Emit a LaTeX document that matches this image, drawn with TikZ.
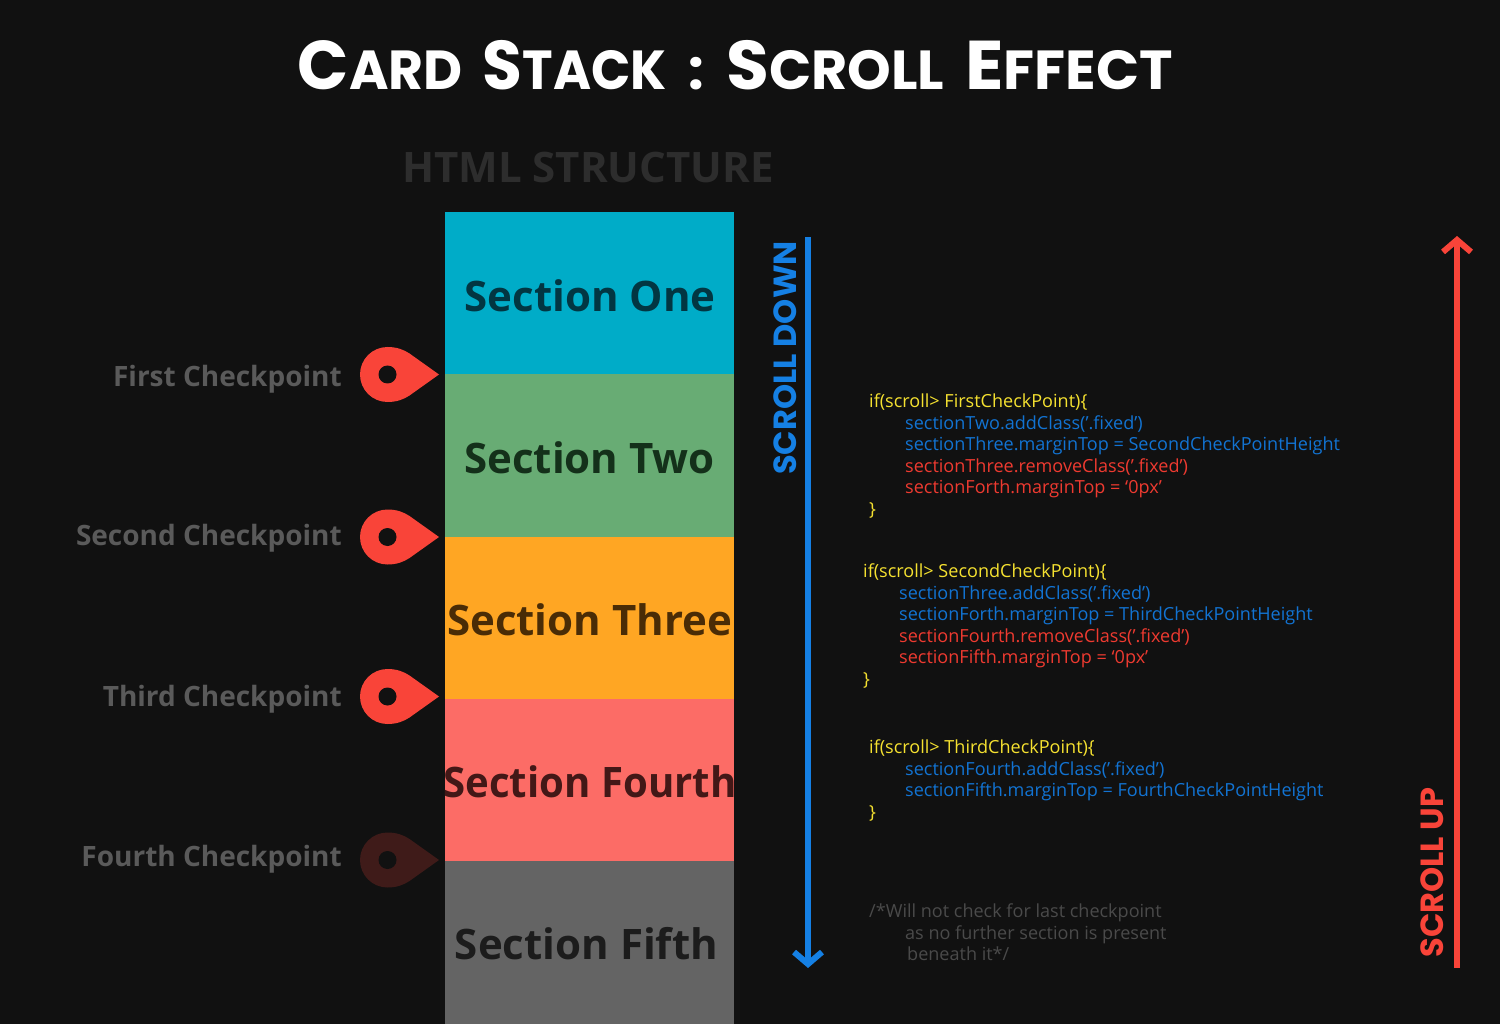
\documentclass[tikz,border=0pt]{standalone}
\usepackage{graphicx}
\usepackage{fontspec}
\setmainfont{Open Sans}
\newfontfamily\titlefont{Poppins}
\usetikzlibrary{arrows.meta,positioning}
\definecolor{bgdark}{HTML}{111111}
\definecolor{pinred}{HTML}{F94439}
\definecolor{scrollblue}{HTML}{1580E4}
\definecolor{codeyellow}{HTML}{F5E130}
\definecolor{codeblue}{HTML}{1273D2}
\definecolor{codered}{HTML}{EE3A30}
\definecolor{checkgrey}{HTML}{5A5A5A}
\definecolor{notegrey}{HTML}{4A4A4A}
\definecolor{headgrey}{HTML}{2D2D2D}
\tikzset{
	sectionbox/.style={minimum width=289pt, minimum height=163pt, inner sep=0pt, anchor=north},
	sectionlabel/.style={inner sep=0pt, anchor=base, font=\fontsize{42}{42}\bfseries},
	checklabel/.style={anchor=base east, inner sep=0pt, text=checkgrey, font=\fontsize{28}{28}\bfseries},
	scrollarrow/.style={line width=6pt, -{Straight Barb[length=12pt, width=28pt, line width=6pt]}},
	scrolllabel/.style={rotate=90, inner sep=0pt, font=\titlefont\fontsize{32}{32}\bfseries, anchor=center},
	codeline/.style={anchor=base west, inner sep=0pt, font=\fontsize{18.05}{18}\selectfont},
	pin/.pic={
		\fill[pic actions] (0,-27.5) arc[start angle=-90, end angle=-270, radius=27.5]
			.. controls (9,27.5) and (16,25) .. (22,21) -- (51.5,0) -- (22,-21)
			.. controls (16,-25) and (9,-27.5) .. (0,-27.5) -- cycle;
		\fill[bgdark] (0,0) circle (9);
	}
}
\newcommand{\titleword}[3]{\scalebox{#1}[1]{{\fontsize{69}{69}\selectfont #2}{\fontsize{55}{55}\selectfont #3}}}
\begin{document}
\begin{tikzpicture}[x=1pt, y=-1pt]
	\useasboundingbox (0,0) rectangle (1500,1024);
	\fill[bgdark] (0,0) rectangle (1500,1024);

	% title and heading
	\node[text=white, inner sep=0pt, anchor=base] (title) at (735.5,90) {\titlefont\bfseries
		\titleword{.976}{C}{ARD}\hspace*{20pt}\titleword{.94}{S}{TACK}\hspace*{22pt}\titleword{1}{}{:}\hspace*{22pt}\titleword{1.01}{S}{CROLL}\hspace*{21pt}\titleword{1.03}{E}{FFECT}};
	\node[text=headgrey, inner sep=0pt, font=\fontsize{42}{42}\bfseries] (heading) at (588,168) {HTML STRUCTURE};

	% sections
	\foreach \sec/\txt/\boxcol/\textcol/\secy/\basey/\labx/\labs in {
		one/One/00ACC8/023642/212/312/590/1,
		two/Two/68AC74/14301A/374/473.5/589.5/1,
		three/Three/FFA623/4A2C06/536.5/635.5/589.5/1,
		fourth/Fourth/FC6C66/431817/699/797.5/590/.955,
		fifth/Fifth/646464/1C1C1C/861/959.5/586.5/1}{
		\definecolor{secfill}{HTML}{\boxcol}
		\definecolor{sectext}{HTML}{\textcol}
		\node[sectionbox, fill=secfill] (\sec) at (589.5,\secy) {};
		\node[sectionlabel, text=sectext] (\sec label) at (\labx,\basey) {\scalebox{\labs}[1]{Section \txt}};
	}

	% checkpoints
	\foreach \name/\lab/\py/\ly/\pincol in {first/First/374.5/386/pinred, second/Second/537/545/pinred, third/Third/696.5/706/pinred, fourth/Fourth/860/866/pinred!20!bgdark}{
		\pic[fill=\pincol] at (387.5,\py) {pin};
		\node[checklabel] (\name check) at (342,\ly) {\lab\ Checkpoint};
	}

	% scroll arrows
	\coordinate (downstart) at (808,237);
	\coordinate (downend) at (808,968);
	\coordinate (upstart) at (1457,968);
	\coordinate (upend) at (1457,236);
	\draw[scrollarrow, scrollblue] (downstart) -- (downend);
	\draw[scrollarrow, pinred] (upstart) -- (upend);
	\node[scrolllabel, text=scrollblue] (downlabel) at (785,358) {SCROLL DOWN};
	\node[scrolllabel, text=pinred] (uplabel) at (1432,872.5) {SCROLL UP};

	% code blocks
	\foreach \x/\y/\col/\txt in {
		869/407/codeyellow/{if(scroll> FirstCheckPoint)\{},
		905/429/codeblue/{sectionTwo.addClass(’.fixed’)},
		905/450/codeblue/{sectionThree.marginTop = SecondCheckPointHeight},
		905/472/codered/{sectionThree.removeClass(’.fixed’)},
		905/493/codered/{sectionForth.marginTop = ‘0px’},
		869/515/codeyellow/{\}},
		863/577/codeyellow/{if(scroll> SecondCheckPoint)\{},
		899/599/codeblue/{sectionThree.addClass(’.fixed’)},
		899/620/codeblue/{sectionForth.marginTop = ThirdCheckPointHeight},
		899/642/codered/{sectionFourth.removeClass(’.fixed’)},
		899/663/codered/{sectionFifth.marginTop = ‘0px’},
		863/685/codeyellow/{\}},
		869/753/codeyellow/{if(scroll> ThirdCheckPoint)\{},
		905/775/codeblue/{sectionFourth.addClass(’.fixed’)},
		905/796/codeblue/{sectionFifth.marginTop = FourthCheckPointHeight},
		869/818/codeyellow/{\}},
		869/917/notegrey/{/*Will not check for last checkpoint},
		905/939/notegrey/{as no further section is present},
		907/960/notegrey/{beneath it*/}}{
		\node[codeline, text=\col] at (\x,\y) {\txt};
	}
\end{tikzpicture}
\end{document}
